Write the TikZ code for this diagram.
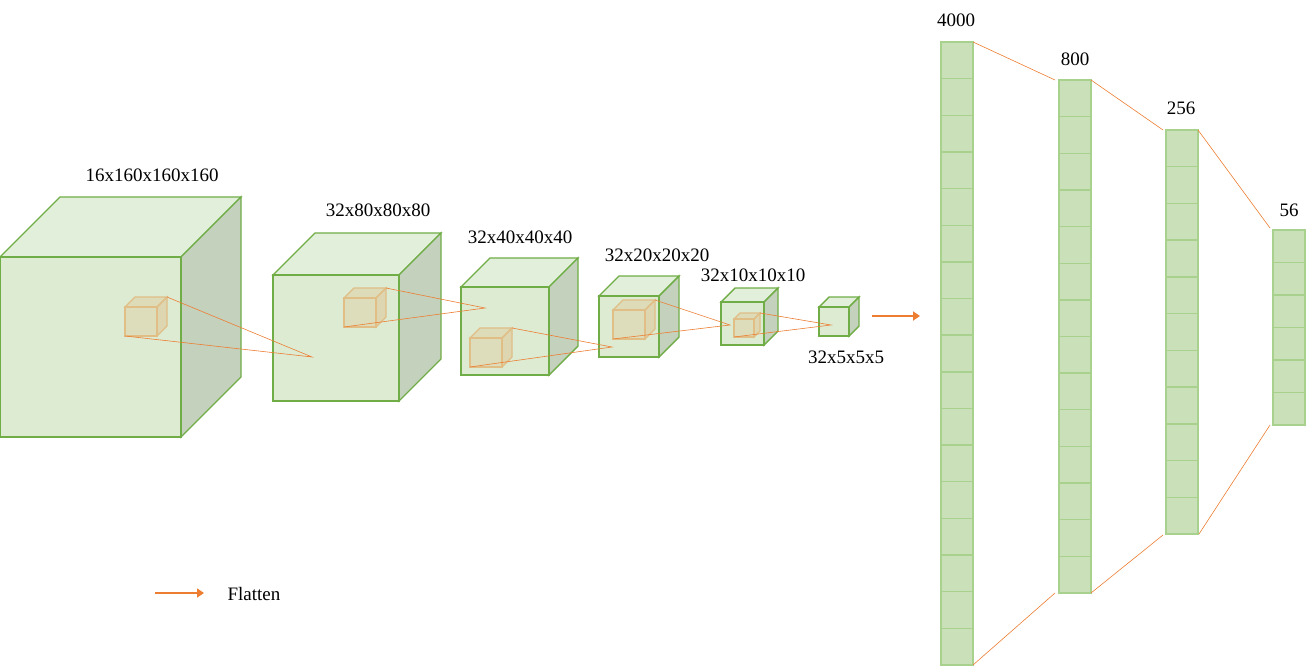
\documentclass[tikz,border=0pt]{standalone}
\usepackage{fontspec}
\setmainfont{Liberation Serif}
\usetikzlibrary{arrows.meta}
\definecolor{cgreen}{HTML}{70AD47}
\definecolor{cfront}{HTML}{DDEBD3}
\definecolor{cside}{HTML}{C4D1BC}
\definecolor{ctop}{HTML}{E2EFDA}
\definecolor{colfill}{HTML}{C9E0B8}
\definecolor{colline}{HTML}{A9D18E}
\definecolor{corange}{HTML}{ED7D31}
\definecolor{sborder}{HTML}{E0BE86}
\newcommand\mycube[5]{%
  \filldraw[draw=cgreen,line width=1.4pt,fill=ctop] (#1,#2) -- ++(#5,-#5) -- (#3+#5,#2-#5) -- (#3,#2) -- cycle;
  \filldraw[draw=cgreen,line width=1.4pt,fill=cside] (#3,#2) -- (#3+#5,#2-#5) -- (#3+#5,#4-#5) -- (#3,#4) -- cycle;
  \filldraw[draw=cgreen,line width=1.4pt,fill=cfront] (#1,#2) rectangle (#3,#4);}
\newcommand\smcube[5]{%
  \filldraw[draw=sborder,line width=1.2pt,fill=sborder,fill opacity=0.35] (#1,#2) -- ++(#5,-#5) -- (#3+#5,#2-#5) -- (#3,#2) -- cycle;
  \filldraw[draw=sborder,line width=1.2pt,fill=sborder,fill opacity=0.45] (#3,#2) -- (#3+#5,#2-#5) -- (#3+#5,#4-#5) -- (#3,#4) -- cycle;
  \filldraw[draw=sborder,line width=1.2pt,fill=sborder,fill opacity=0.3] (#1,#2) rectangle (#3,#4);}
\newcommand\mycol[4]{% x, ytop, ybottom, n
  \fill[colfill] (#1,#2) rectangle (#1+32,#3);
  \foreach \i in {1,...,\numexpr#4-1\relax}{\draw[colline,line width=1.4pt] (#1,{#2+(#3-#2)*\i/#4}) -- (#1+32,{#2+(#3-#2)*\i/#4});}
  \draw[colline,line width=1.4pt] (#1,#2) rectangle (#1+32,#3);}
\tikzset{lbl/.style={font=\fontsize{19}{19}\selectfont,inner sep=0pt},
  ray/.style={corange,line width=0.6pt}}
\begin{document}
\begin{tikzpicture}[x=1pt,y=-1pt]
\useasboundingbox (0,0) rectangle (1316,668);
\mycube{0}{257}{181}{437}{60}
\mycube{273}{275}{399}{401}{42}
\mycube{461}{287}{549}{375}{29}
\mycube{599}{296}{659}{357}{20}
\mycube{721}{302}{764}{345}{14}
\mycube{819}{307}{849}{336}{10}
\smcube{125}{307}{157}{336}{10}
\smcube{344}{298}{376}{327}{10}
\smcube{470}{338}{502}{367}{10}
\smcube{613}{310}{645}{339}{10}
\smcube{734}{319}{754}{337}{6}
\coordinate (a1) at (312,357);
\coordinate (a2) at (485,308);
\coordinate (a3) at (612,347);
\coordinate (a4) at (730,325);
\coordinate (a5) at (831,325);
\draw[ray] (167,297) -- (a1) -- (125,336);
\draw[ray] (386,288) -- (a2) -- (344,327);
\draw[ray] (512,328) -- (a3) -- (470,367);
\draw[ray] (655,300) -- (a4) -- (613,339);
\draw[ray] (760,313) -- (a5) -- (734,337);
\draw[corange,line width=2.2pt,-{Triangle[length=7pt,width=9pt]}] (872,316) -- (920,316);
\draw[corange,line width=2.2pt,-{Triangle[length=7pt,width=9pt]}] (155,593) -- (204,593);
\node[lbl] (fl) at (254,594) {Flatten};
\node[lbl] at (152,175) {16x160x160x160};
\node[lbl] at (378,210) {32x80x80x80};
\node[lbl] at (520,237) {32x40x40x40};
\node[lbl] at (657,255) {32x20x20x20};
\node[lbl] at (753,275) {32x10x10x10};
\node[lbl] at (846,357) {32x5x5x5};
\mycol{941}{42}{665}{17}
\mycol{1059}{80}{593}{14}
\mycol{1166}{130}{534}{11}
\mycol{1273}{230}{425}{6}
\node[lbl] at (956,20) {4000};
\node[lbl] at (1075,59) {800};
\node[lbl] at (1181,108) {256};
\node[lbl] at (1289,210) {56};
\draw[ray] (973,42) -- (1055,80);
\draw[ray] (1091,80) -- (1163,130);
\draw[ray] (1198,130) -- (1270,228);
\draw[ray] (973,665) -- (1055,593);
\draw[ray] (1091,593) -- (1163,535);
\draw[ray] (1199,534) -- (1270,425);
\end{tikzpicture}
\end{document}
